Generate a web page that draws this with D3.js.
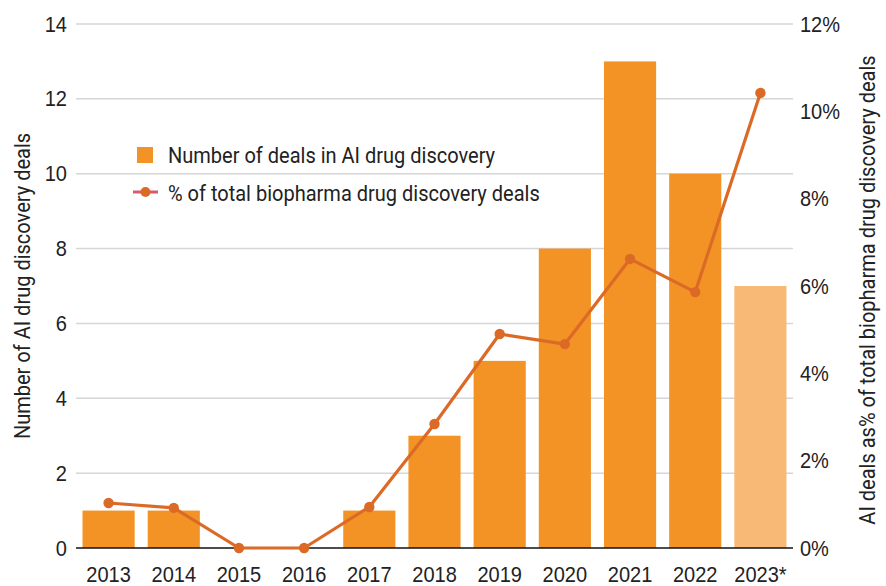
<!DOCTYPE html>
<html>
<head>
<meta charset="utf-8">
<script src="https://cdn.jsdelivr.net/npm/d3@7"></script>
<style>
  html, body { margin: 0; padding: 0; background: #fff; }
  svg { display: block; font-family: Roboto, "Liberation Sans", Arial, sans-serif; }
</style>
</head>
<body>
<svg id="chart" width="886" height="586"></svg>
<script>
// Years on the x axis (2023 is a partial year)
const years = ["2013", "2014", "2015", "2016", "2017", "2018", "2019", "2020", "2021", "2022", "2023*"];
// Number of deals in AI drug discovery
const dealCounts = [1, 1, 0, 0, 1, 3, 5, 8, 13, 10, 7];
// AI deals as % of total biopharma drug discovery deals
const dealShare = [1.03, 0.92, 0, 0, 0.94, 2.84, 4.9, 4.67, 6.62, 5.86, 10.42];
// Axis ticks
const leftTicks = [0, 2, 4, 6, 8, 10, 12, 14];
const rightTicks = [0, 2, 4, 6, 8, 10, 12];

const barColor = "#f39325";
const barColorPartial = "#f8b976";
const lineColor = "#dc6a27";
const legendLineColor = "#e0566b";
const textColor = "#222";
const fs = 22;        // font size for all text
const narrow = 0.91;  // horizontal squeeze for a condensed look

const svg = d3.select("#chart");
const m = { left: 76, right: 93, top: 24, bottom: 38 };
const W = 886, H = 586;

const x = d3.scaleBand().domain(years).range([m.left, W - m.right]).paddingInner(0.2).paddingOuter(0.1);
const yL = d3.scaleLinear().domain([0, 14]).range([H - m.bottom, m.top]);
const yR = d3.scaleLinear().domain([0, 12]).range([H - m.bottom, m.top]);

// Narrow a text element around its own anchor point
function condense(sel, rotate = 0) {
  sel.each(function () {
    const t = d3.select(this);
    const tx = +t.attr("x") || 0, ty = +t.attr("y") || 0;
    t.attr("x", 0).attr("y", 0)
      .attr("transform", `translate(${tx},${ty})${rotate ? ` rotate(${rotate})` : ""} scale(${narrow},1)`);
  });
}

// Gridlines
svg.append("g").selectAll("line").data(leftTicks.filter(d => d > 0)).join("line")
  .attr("x1", m.left).attr("x2", W - m.right)
  .attr("y1", d => yL(d)).attr("y2", d => yL(d))
  .attr("stroke", "#d6d6d6").attr("stroke-width", 1.5);

// Bars
svg.append("g").selectAll("rect").data(years).join("rect")
  .attr("x", d => x(d))
  .attr("width", x.bandwidth())
  .attr("y", (d, i) => yL(dealCounts[i]))
  .attr("height", (d, i) => yL(0) - yL(dealCounts[i]))
  .attr("fill", (d, i) => i === years.length - 1 ? barColorPartial : barColor);

// Baseline
svg.append("line")
  .attr("x1", m.left).attr("x2", W - m.right)
  .attr("y1", yL(0)).attr("y2", yL(0))
  .attr("stroke", "#111").attr("stroke-width", 1.5);

function styleTicks(g) {
  g.select(".domain").remove();
  g.selectAll("text").attr("font-size", fs).attr("fill", textColor)
    .attr("font-family", null).call(condense);
}

// Left axis
const axL = d3.axisLeft(yL).tickValues(leftTicks).tickSize(0).tickPadding(9);
svg.append("g").attr("transform", `translate(${m.left},0)`).call(axL).call(styleTicks);

// Right axis
const axR = d3.axisRight(yR).tickValues(rightTicks).tickSize(0).tickPadding(7).tickFormat(d => d + "%");
svg.append("g").attr("transform", `translate(${W - m.right},0)`).call(axR).call(styleTicks);

// Bottom axis
const axB = d3.axisBottom(x).tickSize(0).tickPadding(18);
svg.append("g").attr("transform", `translate(0,${H - m.bottom})`).call(axB).call(styleTicks);

// Share line
const cx = d => x(d) + x.bandwidth() / 2;
const line = d3.line().x((d, i) => cx(years[i])).y(d => yR(d));
svg.append("path").datum(dealShare)
  .attr("d", line).attr("fill", "none")
  .attr("stroke", lineColor).attr("stroke-width", 3.2).attr("stroke-linejoin", "round");
svg.append("g").selectAll("circle").data(dealShare).join("circle")
  .attr("cx", (d, i) => cx(years[i])).attr("cy", d => yR(d)).attr("r", 5.2)
  .attr("fill", lineColor);

// Axis titles
svg.append("text")
  .attr("x", 30).attr("y", 286)
  .attr("text-anchor", "middle").attr("font-size", fs).attr("fill", textColor)
  .text("Number of AI drug discovery deals")
  .call(condense, -90);
svg.append("text")
  .attr("x", 875).attr("y", 290)
  .attr("text-anchor", "middle").attr("font-size", fs).attr("fill", textColor)
  .text("AI deals as% of total biopharma drug discovery deals")
  .call(condense, -90);

// Legend
const lg = svg.append("g");
lg.append("rect").attr("x", 137).attr("y", 147).attr("width", 16).attr("height", 16).attr("fill", barColor);
lg.append("text").attr("x", 168).attr("y", 163).attr("font-size", fs).attr("fill", textColor)
  .text("Number of deals in AI drug discovery").call(condense);
lg.append("line").attr("x1", 133).attr("x2", 158).attr("y1", 192).attr("y2", 192)
  .attr("stroke", legendLineColor).attr("stroke-width", 3);
lg.append("circle").attr("cx", 145.5).attr("cy", 192).attr("r", 5).attr("fill", lineColor);
lg.append("text").attr("x", 168).attr("y", 201).attr("font-size", fs).attr("fill", textColor)
  .text("% of total biopharma drug discovery deals").call(condense);
</script>
</body>
</html>
